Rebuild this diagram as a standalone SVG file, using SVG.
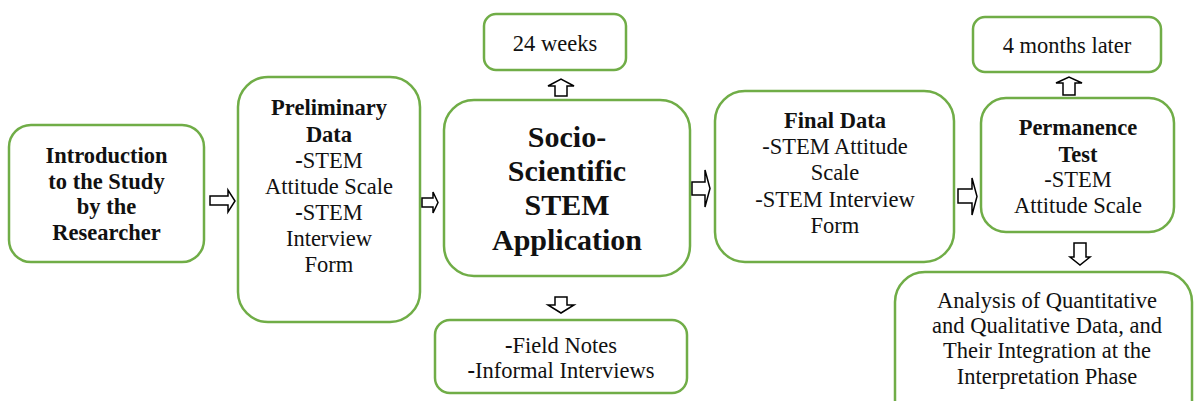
<svg xmlns="http://www.w3.org/2000/svg" width="1194" height="401" viewBox="0 0 1194 401">
<style>
.box{fill:#fff;stroke:#70AD47;stroke-width:2.5}
.t{font-family:"Liberation Serif","Times New Roman",serif;font-size:22.5px;fill:#111;text-anchor:middle}
.b{font-weight:bold}
.big{font-size:30px;font-weight:bold}
.arr{fill:#fff;stroke:#000;stroke-width:1.5;stroke-linejoin:miter}
</style>
<rect width="1194" height="401" fill="#fff"/>
<g id="intro">
<rect class="box" x="9" y="125" width="195" height="137" rx="22"/>
<text class="t b" x="106.5" y="163">Introduction</text>
<text class="t b" x="106.5" y="189">to the Study</text>
<text class="t b" x="106.5" y="214">by the</text>
<text class="t b" x="106.5" y="240">Researcher</text>
</g>
<g id="preliminary">
<rect class="box" x="238" y="77" width="182" height="245" rx="30"/>
<text class="t b" x="329" y="115">Preliminary</text>
<text class="t b" x="329" y="142">Data</text>
<text class="t" x="329" y="168"><tspan class="b">-</tspan>STEM</text>
<text class="t" x="329" y="194">Attitude Scale</text>
<text class="t" x="329" y="220"><tspan class="b">-</tspan>STEM</text>
<text class="t" x="329" y="246">Interview</text>
<text class="t" x="329" y="272">Form</text>
</g>
<g id="weeks">
<rect class="box" x="484" y="14" width="142" height="56" rx="12"/>
<text class="t" x="555" y="51">24 weeks</text>
</g>
<g id="application">
<rect class="box" x="444" y="100" width="246" height="176" rx="30"/>
<text class="t big" x="567" y="147">Socio-</text>
<text class="t big" x="567" y="181">Scientific</text>
<text class="t big" x="567" y="215">STEM</text>
<text class="t big" x="567" y="250">Application</text>
</g>
<g id="fieldnotes">
<rect class="box" x="435" y="320" width="252" height="73" rx="15"/>
<text class="t" x="561" y="353"><tspan class="b">-</tspan>Field Notes</text>
<text class="t" x="561" y="378"><tspan class="b">-</tspan>Informal Interviews</text>
</g>
<g id="finaldata">
<rect class="box" x="715" y="91" width="239" height="171" rx="30"/>
<text class="t b" x="835" y="128">Final Data</text>
<text class="t" x="835" y="154">-STEM Attitude</text>
<text class="t" x="835" y="180">Scale</text>
<text class="t" x="835" y="207">-STEM Interview</text>
<text class="t" x="835" y="233">Form</text>
</g>
<g id="months">
<rect class="box" x="973" y="17" width="188" height="55" rx="12"/>
<text class="t" x="1067" y="53">4 months later</text>
</g>
<g id="permanence">
<rect class="box" x="981" y="98" width="193" height="134" rx="25"/>
<text class="t b" x="1078" y="135">Permanence</text>
<text class="t b" x="1078" y="162">Test</text>
<text class="t" x="1078" y="187">-STEM</text>
<text class="t" x="1078" y="213">Attitude Scale</text>
</g>
<g id="analysis">
<rect class="box" x="895" y="272" width="297" height="170" rx="30"/>
<text class="t" x="1047" y="308">Analysis of Quantitative</text>
<text class="t" x="1047" y="333">and Qualitative Data, and</text>
<text class="t" x="1047" y="358">Their Integration at the</text>
<text class="t" x="1047" y="384">Interpretation Phase</text>
</g>
<g id="connectors">
<polygon class="arr" points="210,196 228,196 228,190 235,201 228,212 228,205 210,205"/>
<polygon class="arr" points="422,198 433,198 433,192 438,202.5 433,213 433,207 422,207"/>
<polygon class="arr" points="692,182 705,182 705,170 710,188.5 705,207 705,195 692,195"/>
<polygon class="arr" points="958,189 972,189 972,178 977,196.5 972,215 972,203 958,203"/>
<polygon class="arr" points="555,96 555,86 548,86 561,79 574,86 567,86 567,96"/>
<polygon class="arr" points="1063,95 1063,83 1056,83 1069,77 1082,83 1075,83 1075,95"/>
<polygon class="arr" points="555,297 567,297 567,305 574,305 561,313 548,305 555,305"/>
<polygon class="arr" points="1074,243 1086,243 1086,257 1090,257 1080,265 1070,257 1074,257"/>
</g>
</svg>
